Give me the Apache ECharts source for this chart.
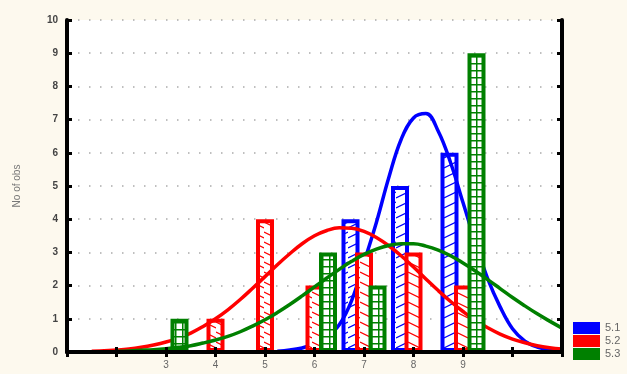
<!DOCTYPE html>
<html>
<head>
<meta charset="utf-8">
<script src="https://cdn.jsdelivr.net/npm/echarts@6/dist/echarts.min.js"></script>
<style>
  html, body { margin: 0; padding: 0; background: #fdf9ee; }
  #chart { width: 627px; height: 374px; }
</style>
</head>
<body>
<div id="chart"></div>
<script>
// 直方图分组（每个整数一组）
const categories = ['1', '2', '3', '4', '5', '6', '7', '8', '9', '10', '11']
const bars51 = [null, null, null, null, null, null, 4, 5, 6, null, null]
const bars52 = [null, null, null, 1, 4, 2, 3, 3, 2, null, null]
const bars53 = [null, null, 1, null, null, 3, 2, null, 9, null, null]
const xTickLabels = ['3', '4', '5', '6', '7', '8', '9']

// 正态拟合曲线
const curveX = [1.5, 1.75, 2, 2.25, 2.5, 2.75, 3, 3.25, 3.5, 3.75, 4, 4.25, 4.5, 4.75, 5, 5.25, 5.5, 5.75, 6, 6.25, 6.5, 6.75, 7, 7.25, 7.5, 7.75, 8, 8.25, 8.5, 8.75, 9, 9.25, 9.5, 9.75, 10, 10.25, 10.5, 10.75, 11]
const curve51 = [null, null, null, null, null, null, null, null, null, null, null, null, null, null, null,
  0.02, 0.06, 0.12, 0.25, 0.46, 0.82, 1.55, 2.7, 3.9, 5.25, 6.4, 7.05, 7.18, 6.65, 5.7, 4.5, 3.3, 2.2, 1.36, 0.7, 0.33, 0.15, 0.07, 0.03]
const curve52 = [0.02, 0.04, 0.06, 0.09, 0.14, 0.21, 0.30, 0.42, 0.57, 0.77, 1.00, 1.27, 1.58, 1.92, 2.27, 2.63, 2.96, 3.26, 3.50, 3.66, 3.74, 3.73, 3.63, 3.45, 3.20, 2.90, 2.56, 2.20, 1.85, 1.52, 1.22, 0.95, 0.73, 0.54, 0.39, 0.28, 0.19, 0.13, 0.09]
const curve53 = [null, null, 0.02, 0.03, 0.05, 0.07, 0.10, 0.14, 0.19, 0.27, 0.36, 0.47, 0.61, 0.78, 0.97, 1.19, 1.43, 1.69, 1.96, 2.23, 2.49, 2.73, 2.94, 3.10, 3.21, 3.26, 3.26, 3.19, 3.07, 2.90, 2.68, 2.44, 2.18, 1.91, 1.64, 1.39, 1.15, 0.93, 0.72]

const BLUE = '#0000ff'
const RED = '#ff0000'
const GREEN = '#008000'

// 填充纹理
function hatch(color, kind) {
  const c = document.createElement('canvas')
  const w = kind === 'grid' ? 7 : 12
  const h = kind === 'grid' ? 7 : 10
  c.width = w
  c.height = h
  const ctx = c.getContext('2d')
  ctx.fillStyle = '#fff'
  ctx.fillRect(0, 0, w, h)
  ctx.strokeStyle = color
  ctx.lineWidth = kind === 'grid' ? 1.5 : 1.2
  ctx.beginPath()
  if (kind === 'up') {
    ctx.moveTo(0, 8)
    ctx.lineTo(12, 2)
  } else if (kind === 'down') {
    ctx.moveTo(0, 2)
    ctx.lineTo(12, 8)
  } else {
    ctx.moveTo(0, 0.75)
    ctx.lineTo(w, 0.75)
    ctx.moveTo(0.75, 0)
    ctx.lineTo(0.75, h)
  }
  ctx.stroke()
  return { image: c, repeat: 'repeat' }
}

function pairs(ys) {
  return curveX.map((x, i) => [x, ys[i]])
}

const chart = echarts.init(document.getElementById('chart'))

const tickStyle = { show: true, inside: true, length: 5, lineStyle: { color: '#000', width: 3 } }
const frameLine = { show: true, lineStyle: { color: '#000', width: 4 } }

// 边框画在柱宽以内，所以 barWidth 是外宽
const barBase = {
  type: 'bar',
  xAxisIndex: 2,
  barWidth: 18,
  barGap: '-25%',
  animation: false
}
const lineBase = {
  type: 'line',
  xAxisIndex: 0,
  showSymbol: false,
  smooth: 0.4,
  animation: false
}

const option = {
  backgroundColor: '#fdf9ee',
  grid: {
    left: 67,
    right: 65,
    top: 20,
    bottom: 22,
    show: true,
    backgroundColor: '#fff',
    borderWidth: 0
  },
  legend: {
    orient: 'vertical',
    left: 573,
    top: 322,
    itemWidth: 27,
    itemHeight: 12,
    itemGap: 1,
    itemTextGap: 3,
    padding: 0,
    icon: 'rect',
    textStyle: { fontSize: 11, color: '#666', fontFamily: 'Liberation Sans' },
    data: [
      { name: '5.1', itemStyle: { color: BLUE, borderWidth: 0 } },
      { name: '5.2', itemStyle: { color: RED, borderWidth: 0 } },
      { name: '5.3', itemStyle: { color: GREEN, borderWidth: 0 } }
    ]
  },
  xAxis: [
    {
      type: 'value',
      position: 'bottom',
      min: 1,
      max: 11,
      interval: 1,
      z: 10,
      axisLine: frameLine,
      axisTick: tickStyle,
      splitLine: { show: false },
      axisLabel: {
        margin: 8,
        fontSize: 10,
        color: '#666',
        fontFamily: 'Liberation Sans',
        formatter: v => (xTickLabels.includes(String(v)) ? String(v) : '')
      }
    },
    {
      type: 'value',
      position: 'top',
      min: 1,
      max: 11,
      interval: 1,
      z: 10,
      axisLine: frameLine,
      axisTick: tickStyle,
      splitLine: { show: false },
      axisLabel: { show: false }
    },
    {
      type: 'category',
      show: false,
      position: 'bottom',
      boundaryGap: false,
      data: categories
    }
  ],
  yAxis: [
    {
      type: 'value',
      position: 'left',
      min: 0,
      max: 10,
      interval: 1,
      z: 10,
      name: 'No of obs',
      nameLocation: 'middle',
      nameGap: 45,
      nameTextStyle: { fontSize: 10, color: '#777', fontFamily: 'Liberation Sans' },
      axisLine: frameLine,
      axisTick: tickStyle,
      splitLine: { show: false },
      axisLabel: { margin: 9, fontSize: 10, fontWeight: 'bold', color: '#444', fontFamily: 'Liberation Sans' }
    },
    {
      type: 'value',
      position: 'right',
      min: 0,
      max: 10,
      interval: 1,
      z: 10,
      axisLine: frameLine,
      axisTick: tickStyle,
      splitLine: { show: false },
      axisLabel: { show: false }
    },
    {
      // 只画虚线网格
      type: 'value',
      position: 'left',
      min: 0,
      max: 10,
      interval: 1,
      z: 0,
      axisLine: { show: false },
      axisTick: { show: false },
      axisLabel: { show: false },
      splitLine: { show: true, lineStyle: { color: '#aaa', width: 1.5, type: [1.5, 9.5] } }
    }
  ],
  series: [
    Object.assign({}, barBase, {
      name: '5.1',
      z: 2,
      data: bars51,
      itemStyle: { color: hatch(BLUE, 'up'), borderColor: BLUE, borderWidth: 4 }
    }),
    Object.assign({}, lineBase, {
      name: 'fit5.1',
      z: 3,
      data: pairs(curve51),
      lineStyle: { color: BLUE, width: 3.5 },
      itemStyle: { color: BLUE }
    }),
    Object.assign({}, barBase, {
      name: '5.2',
      z: 4,
      data: bars52,
      itemStyle: { color: hatch(RED, 'down'), borderColor: RED, borderWidth: 4 }
    }),
    Object.assign({}, lineBase, {
      name: 'fit5.2',
      z: 5,
      data: pairs(curve52),
      lineStyle: { color: RED, width: 3.5 },
      itemStyle: { color: RED }
    }),
    Object.assign({}, barBase, {
      name: '5.3',
      z: 6,
      data: bars53,
      itemStyle: { color: hatch(GREEN, 'grid'), borderColor: GREEN, borderWidth: 4 }
    }),
    Object.assign({}, lineBase, {
      name: 'fit5.3',
      z: 7,
      data: pairs(curve53),
      lineStyle: { color: GREEN, width: 3.5 },
      itemStyle: { color: GREEN }
    })
  ]
}

chart.setOption(option)
</script>
</body>
</html>
